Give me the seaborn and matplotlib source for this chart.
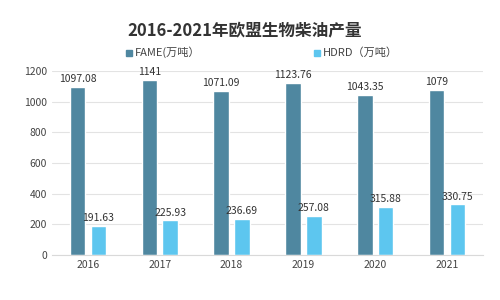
import pandas as pd
import numpy as np
import matplotlib.pyplot as plt
import seaborn as sns

years = ['2016', '2017', '2018', '2019', '2020', '2021']
fame = [1097.08, 1141, 1071.09, 1123.76, 1043.35, 1079]
hdrd = [191.63, 225.93, 236.69, 257.08, 315.88, 330.75]
series = ['FAME(万吨）', 'HDRD（万吨）']

df = pd.DataFrame({
    'year': years * 2,
    'value': fame + hdrd,
    'kind': [series[0]] * len(years) + [series[1]] * len(years),
})

sns.set_style('white')
plt.rcParams['font.family'] = ['Noto Sans CJK SC', 'DejaVu Sans']

fig = plt.figure(figsize=(5, 3), dpi=100)
ax = fig.add_axes([0.104, 0.15, 0.862, 0.613])

sns.barplot(data=df, x='year', y='value', hue='kind', ax=ax,
            palette=['#4F87A0', '#5DC6EF'], width=0.58, gap=0.25,
            saturation=1, legend=False)

for c in ax.containers:
    ax.bar_label(c, labels=[('%g' % v if v == int(v) else '%.2f' % v) for v in c.datavalues],
                 padding=2, fontsize=7.5, color='#333333')

ax.set_ylim(0, 1200)
ax.set_yticks(np.arange(0, 1201, 200))
ax.set_xlim(-0.5, 5.5)
ax.yaxis.grid(True, color='#e3e3e3', linewidth=0.8)
ax.set_axisbelow(True)
for s in ['top', 'right', 'left']:
    ax.spines[s].set_visible(False)
ax.spines['bottom'].set_color('#d9d9d9')
ax.tick_params(axis='both', length=0, labelsize=7.5, colors='#444444')
ax.set_xlabel('')
ax.set_ylabel('')

fig.text(0.49, 0.9, '2016-2021年欧盟生物柴油产量', ha='center', va='center',
         fontsize=12, fontweight='bold', color='#333333')

# legend
fig.patches.append(plt.Rectangle((0.252, 0.815), 0.012, 0.02, color='#4F87A0',
                                 transform=fig.transFigure, figure=fig))
fig.text(0.27, 0.825, series[0], ha='left', va='center', fontsize=8, color='#444444')
fig.patches.append(plt.Rectangle((0.627, 0.815), 0.012, 0.02, color='#5DC6EF',
                                 transform=fig.transFigure, figure=fig))
fig.text(0.645, 0.825, series[1], ha='left', va='center', fontsize=8, color='#444444')

fig.savefig('out.png', dpi=100)
